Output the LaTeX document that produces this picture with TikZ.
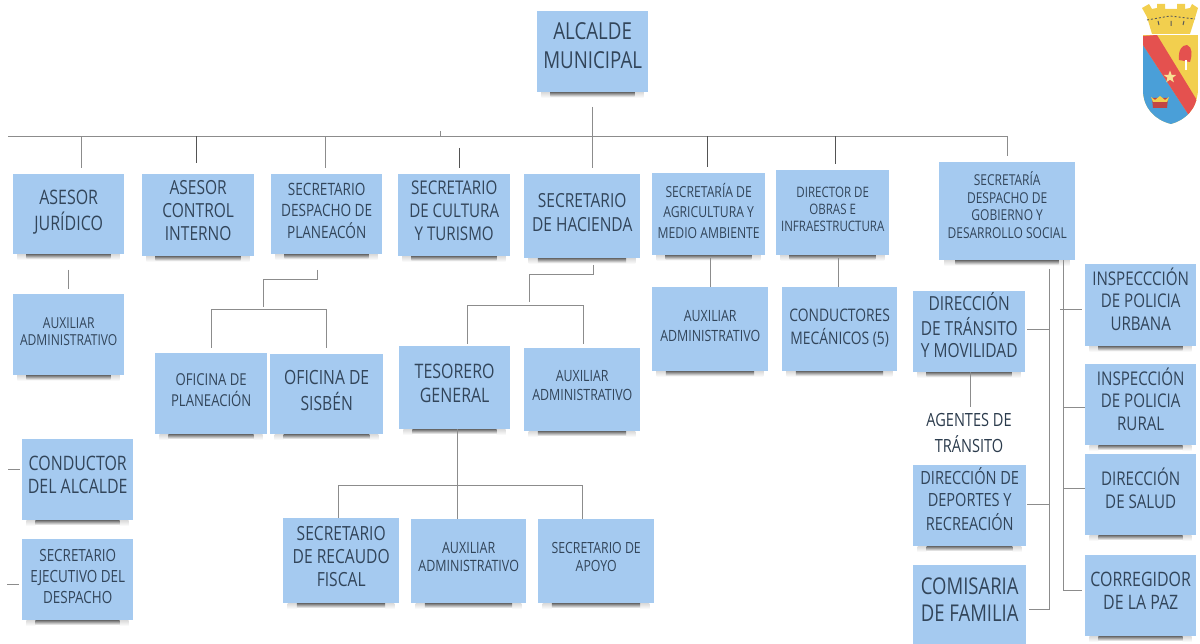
\documentclass[tikz,border=0pt]{standalone}
\usepackage{fontspec}
\setmainfont[FakeStretch=0.80]{Open Sans}
\usetikzlibrary{calc,shapes.geometric}
\definecolor{boxblue}{HTML}{A5CAF0}
\definecolor{boxtext}{HTML}{32455A}
\definecolor{conn}{HTML}{8C8C8C}
\definecolor{crestyellow}{HTML}{F2CF4E}
\definecolor{crestred}{HTML}{E4514F}
\definecolor{crestblue}{HTML}{4A9FD8}
\tikzset{
  bx/.style={fill=boxblue,text=boxtext,inner sep=0pt,align=center,anchor=north west},
  wire/.style={draw=conn,line width=1pt},
  darkwire/.style={draw=conn!60!black,line width=1pt},
  plain/.style={text=boxtext!85!black,inner sep=0pt,align=center}
}
% name, x0, y0, x1, y1, font size, line pitch, raise, text
\newcommand{\bxn}[9]{%
  \pgfmathsetmacro{\bw}{#4-#2}\pgfmathsetmacro{\bh}{#5-#3}%
  \pgfmathsetmacro{\ia}{#2+0.04*\bw}\pgfmathsetmacro{\ib}{#4-0.04*\bw}%
  \pgfmathsetmacro{\ic}{#2+0.12*\bw}\pgfmathsetmacro{\id}{#4-0.12*\bw}%
  \pgfmathsetmacro{\sa}{#5+5}\pgfmathsetmacro{\sb}{#5+6}%
  \pgfmathsetmacro{\rz}{#8*0.6}%
  \shade[top color=black!15,bottom color=white] (\ia,#5) rectangle (\ib,\sb);
  \shade[top color=black!60,bottom color=white] (\ic,#5) rectangle (\id,\sa);
  \node[bx,minimum width=\bw pt,minimum height=\bh pt,font=\fontsize{#6}{#7}\selectfont] (#1) at (#2,#3)
    {\raisebox{\rz pt}[\height][\depth]{\begin{tabular}{@{}c@{}}#9\end{tabular}}};%
}
\begin{document}
\begin{tikzpicture}[x=1pt,y=-1pt]
\useasboundingbox (0,0) rectangle (1200,644);

\bxn{alc}{537}{11}{648}{92}{23.4}{29}{6.5}{ALCALDE\\MUNICIPAL}
\bxn{jur}{13}{174}{124}{254}{19.95}{23}{2}{ASESOR\\JURÍDICO}
\bxn{con}{142}{174}{254}{256}{19.4}{23}{3}{ASESOR\\CONTROL\\INTERNO}
\bxn{pla}{271}{174}{382}{254}{17.0}{21}{2.3}{SECRETARIO\\DESPACHO DE\\PLANEACÓN}
\bxn{cul}{398}{174}{510}{256}{18.9}{23}{3}{SECRETARIO\\DE CULTURA\\Y TURISMO}
\bxn{hac}{524}{174}{640}{258}{19.4}{24}{2.5}{SECRETARIO\\DE HACIENDA}
\bxn{agr}{652}{173}{765}{255}{15.2}{20.5}{1}{SECRETARÍA DE\\AGRICULTURA Y\\MEDIO AMBIENTE}
\bxn{obr}{776}{170}{889}{255}{14.4}{17}{2}{DIRECTOR DE\\OBRAS E\\INFRAESTRUCTURA}
\bxn{gob}{939}{162}{1075}{260}{15}{17.7}{6}{SECRETARÍA\\DESPACHO DE\\GOBIERNO Y\\DESARROLLO SOCIAL}
\bxn{aux}{13}{294}{124}{375}{15.1}{17}{2.5}{AUXILIAR\\ADMINISTRATIVO}
\bxn{ofp}{155}{353}{267}{434}{16.4}{19}{2}{OFICINA DE\\PLANEACIÓN}
\bxn{sis}{270}{354}{383}{434}{19.6}{24}{2.5}{OFICINA DE\\SISBÉN}
\bxn{tes}{399}{346}{510}{429}{19.95}{24}{3.5}{TESORERO\\GENERAL}
\bxn{auh}{524}{348}{640}{431}{15.5}{19}{3.5}{AUXILIAR\\ADMINISTRATIVO}
\bxn{aua}{652}{287}{768}{371}{15.5}{20}{3.5}{AUXILIAR\\ADMINISTRATIVO}
\bxn{cmc}{782}{287}{897}{371}{17.3}{21}{1}{CONDUCTORES\\MECÁNICOS (5)}
\bxn{cda}{22}{439}{133}{520}{19.9}{23}{3.5}{CONDUCTOR\\DEL ALCALDE}
\bxn{eje}{22}{539}{133}{620}{16.8}{21}{2.5}{SECRETARIO\\EJECUTIVO DEL\\DESPACHO}
\bxn{rec}{283}{518}{399}{603}{19.5}{23}{2.5}{SECRETARIO\\DE RECAUDO\\FISCAL}
\bxn{aut}{411}{519}{526}{603}{15.6}{17.5}{3.5}{AUXILIAR\\ADMINISTRATIVO}
\bxn{apo}{538}{519}{654}{603}{15.4}{18}{4}{SECRETARIO DE\\APOYO}
\bxn{tra}{913}{291}{1025}{372}{19.4}{22.5}{5.5}{DIRECCIÓN\\DE TRÁNSITO\\Y MOVILIDAD}
\bxn{dep}{913}{465}{1026}{546}{18.2}{22}{6}{DIRECCIÓN DE\\DEPORTES Y\\RECREACIÓN}
\bxn{com}{913}{565}{1026}{644}{23.1}{27}{3}{COMISARIA\\DE FAMILIA}
\bxn{urb}{1085}{264}{1196}{346}{18.9}{22.5}{5}{INSPECCCIÓN\\DE POLICIA\\URBANA}
\bxn{rur}{1085}{364}{1196}{445}{18.9}{22.5}{4}{INSPECCIÓN\\DE POLICIA\\RURAL}
\bxn{sal}{1085}{454}{1196}{535}{18.9}{23}{4.5}{DIRECCIÓN\\DE SALUD}
\bxn{cor}{1085}{555}{1196}{636}{19.9}{23}{4.5}{CORREGIDOR\\DE LA PAZ}
\node[plain,font=\fontsize{18.2}{26}\selectfont] (age) at (969,433) {AGENTES DE\\TRÁNSITO};

% junction coordinates
\coordinate (busL) at (8,136.5);
\coordinate (busM) at (440,136.5);
\coordinate (busT) at (440,131);
\coordinate (busR) at (1007,136.5);
\coordinate (b1) at (81,136.5);
\coordinate (b2) at (196,136.5);
\coordinate (b3) at (325,136.5);
\coordinate (b4) at (459,148);
\coordinate (b5t) at (592,107);
\coordinate (b6) at (707,136.5);
\coordinate (b7) at (835,136.5);

\draw[wire] (busT) -- (busM) -- (busL);
\draw[wire] (busM) -- (busR);
\draw[wire,shorten >=6pt] (busR) -- (busR |- gob.north);
\draw[wire,shorten >=6pt] (b1) -- (b1 |- jur.north);
\draw[darkwire,shorten >=11pt] (b2) -- (b2 |- con.north);
\draw[wire,shorten >=6pt] (b3) -- (b3 |- pla.north);
\draw[darkwire,shorten >=6pt] (b4) -- (b4 |- cul.north);
\draw[wire,shorten >=6pt] (b5t) -- (b5t |- hac.north);
\draw[darkwire,shorten >=6pt] (b6) -- (b6 |- agr.north);
\draw[darkwire,shorten >=6pt] (b7) -- (b7 |- obr.north);

% Jurídico
\coordinate (j1) at (68,270);
\draw[wire,shorten >=5pt] (j1) -- (j1 |- aux.north);
% Planeación
\coordinate (p1) at (317,270);
\coordinate (p2) at (317,280);
\coordinate (p3) at (263,280);
\coordinate (p4) at (263,307);
\coordinate (pL) at (211,310);
\coordinate (pR) at (326,310);
\draw[wire] (p1) -- (p2) -- (p3) -- (p4);
\draw[wire] ($(pL |- ofp.north)+(0,-5)$) -- (pL) -- (pR) -- ($(pR |- sis.north)+(0,-6)$);
% Hacienda
\coordinate (h1) at (593,265);
\coordinate (h2) at (593,275);
\coordinate (h3) at (529,275);
\coordinate (h4) at (529,302);
\coordinate (hL) at (467,306);
\coordinate (hR) at (583,306);
\draw[wire] (h1) -- (h2) -- (h3) -- (h4);
\draw[wire] ($(hL |- tes.north)+(0,-2)$) -- (hL) -- (hR) -- ($(hR |- auh.north)+(0,-4)$);
% Tesorero
\coordinate (t1) at (457,485);
\coordinate (tL) at (338,485);
\coordinate (tR) at (582,485);
\draw[wire] (t1 |- tes.south) -- (t1 |- aut.north);
\draw[wire] (tL |- rec.north) -- (tL) -- (tR) -- (tR |- apo.north);
% Agricultura, Obras
\coordinate (a1) at (710,258);
\coordinate (o1) at (838,258);
\draw[wire] (a1) -- (a1 |- aua.north);
\draw[wire] (o1) -- (o1 |- cmc.north);
% left stubs
\coordinate (s1) at (8,469);
\coordinate (s2) at (7,584);
\draw[wire,shorten >=2pt] (s1) -- (s1 -| cda.west);
\draw[wire,shorten >=3pt] (s2) -- (s2 -| eje.west);
% Tránsito
\coordinate (n1) at (970,372);
\draw[wire] (n1) -- ($(n1 |- age.north)+(0,-6)$);
% right trunks
\coordinate (k1) at (1049,269);
\coordinate (k2) at (1049,609);
\coordinate (k3) at (1049,330);
\coordinate (k4) at (1049,504);
\draw[wire] (k1) -- (k2) -- ($(k2 -| com.east)+(3,0)$);
\draw[wire] (k3) -- ($(k3 -| tra.east)+(2,0)$);
\draw[wire] (k4) -- ($(k4 -| dep.east)+(1,0)$);
\coordinate (m1) at (1063,260);
\coordinate (m2) at (1063,590);
\coordinate (m3) at (1060,310);
\coordinate (m4) at (1063,407);
\coordinate (m5) at (1063,488);
\draw[wire,shorten >=3pt] (m1) -- (m2) -- (m2 -| cor.west);
\draw[wire,shorten >=3pt] (m3) -- (m3 -| urb.west);
\draw[wire] (m4) -- (m4 -| rur.west);
\draw[wire] (m5) -- (m5 -| sal.west);

% crest
\begin{scope}
\fill[crestyellow] (1152,34) -- (1147,17) -- (1142,8) -- (1149,4) -- (1152,9) -- (1157,8) -- (1157,4) -- (1165,4) -- (1165,9) -- (1177,9) -- (1177,4) -- (1185,4) -- (1185,9) -- (1190,8) -- (1192,4) -- (1198,8) -- (1195,18) -- (1190,34) -- cycle;
\draw[black!65,line width=.9pt,dash pattern=on 2pt off 2pt] (1147,20) -- (1170,16) -- (1195,19);
\draw[black!65,line width=1pt] (1158,21) -- (1159,25) (1171,21) -- (1171,26) (1184,21) -- (1183,25);
\begin{scope}
\clip (1143,35) -- (1198,35) -- (1198,90) .. controls (1197,110) and (1185,120) .. (1171,124) .. controls (1155,120) and (1143,108) .. (1143,90) -- cycle;
\fill[crestyellow] (1143,35) rectangle (1198,124);
\fill[crestblue] (1143,45) -- (1190,117) -- (1198,124) -- (1143,124) -- cycle;
\fill[crestred] (1143,36) -- (1157,35) -- (1198,102) -- (1198,120) -- (1190,117) -- (1143,45) -- cycle;
\end{scope}
\node[star,star points=5,star point ratio=2.4,fill=crestyellow!60!white,minimum size=13pt,inner sep=0pt] (st) at (1170,77) {};
\fill[crestred] (1179,60) .. controls (1178,50) and (1182,45) .. (1187,45) .. controls (1193,47) and (1192,56) .. (1190,62) -- cycle;
\draw[white,line width=1.2pt] (1186,60) -- (1186,70);
\fill[crestred!85!black] (1152,98) -- (1168,98) -- (1167,108) -- (1153,108) -- cycle;
\fill[crestyellow] (1151,97) -- (1155,100) -- (1160,96) -- (1165,100) -- (1169,97) -- (1167,102) -- (1153,102) -- cycle;
\end{scope}
\end{tikzpicture}
\end{document}
